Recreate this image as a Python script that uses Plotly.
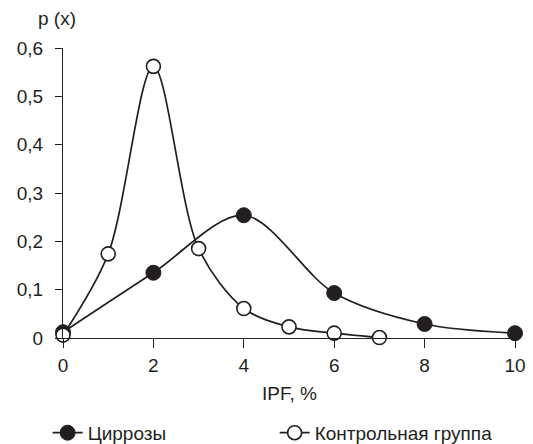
import plotly.graph_objects as go

cirr_x = [0, 2, 4, 6, 8, 10]
cirr_y = [0.012, 0.135, 0.254, 0.093, 0.029, 0.010]
ctrl_x = [0, 1, 2, 3, 4, 5, 6, 7]
ctrl_y = [0.006, 0.174, 0.562, 0.185, 0.061, 0.023, 0.010, 0.001]
x_ticks = [0, 2, 4, 6, 8, 10]
y_ticks = [0, 0.1, 0.2, 0.3, 0.4, 0.5, 0.6]
y_labels = ["0", "0,1", "0,2", "0,3", "0,4", "0,5", "0,6"]

FONT = "Liberation Sans, Arial, sans-serif"
INK = "#231f20"

fig = go.Figure()
fig.add_trace(go.Scatter(
    x=cirr_x, y=cirr_y, name="Циррозы", mode="lines+markers",
    line=dict(color=INK, width=1.7, shape="spline", smoothing=0.9),
    marker=dict(symbol="circle", size=15, color=INK, line=dict(color=INK, width=1)),
    cliponaxis=False))
fig.add_trace(go.Scatter(
    x=ctrl_x, y=ctrl_y, name="Контрольная группа", mode="lines+markers",
    line=dict(color=INK, width=1.7, shape="spline", smoothing=0.9),
    marker=dict(symbol="circle", size=14, color="white", line=dict(color=INK, width=1.6)),
    cliponaxis=False))

fig.update_layout(
    width=533, height=444,
    margin=dict(l=63, r=18, t=48, b=106, autoexpand=False),
    paper_bgcolor="white", plot_bgcolor="white",
    font=dict(family=FONT, size=19, color=INK),
    showlegend=True,
    legend=dict(orientation="h", x=-0.034, xanchor="left", y=-0.327, yanchor="middle",
                entrywidth=182, entrywidthmode="pixels",
                font=dict(family=FONT, size=19, color=INK), bgcolor="rgba(0,0,0,0)"),
    xaxis=dict(range=[0, 10], tickvals=x_ticks, ticks="outside", ticklen=9,
               tickcolor=INK, showline=True, linecolor=INK, linewidth=1.3,
               showgrid=False, zeroline=False, tickfont=dict(size=19),
               automargin=False, ticklabelstandoff=1),
    yaxis=dict(range=[0, 0.6], tickvals=y_ticks, ticktext=y_labels, ticks="outside",
               ticklen=7, tickcolor=INK, showline=True, linecolor=INK, linewidth=1.3,
               showgrid=False, zeroline=False, tickfont=dict(size=19),
               automargin=False, ticklabelstandoff=8),
    annotations=[
        dict(text="p (x)", x=-0.013, xref="paper", y=1.103, yref="paper",
             xanchor="center", yanchor="middle", showarrow=False, font=dict(size=19)),
        dict(text="IPF, %", x=0.502, xref="paper", y=-0.193, yref="paper",
             xanchor="center", yanchor="middle", showarrow=False, font=dict(size=19)),
    ],
)
fig.write_html("out.html", config={"displayModeBar": False},
               post_script="document.body.style.margin='0';document.body.style.overflow='hidden';")
